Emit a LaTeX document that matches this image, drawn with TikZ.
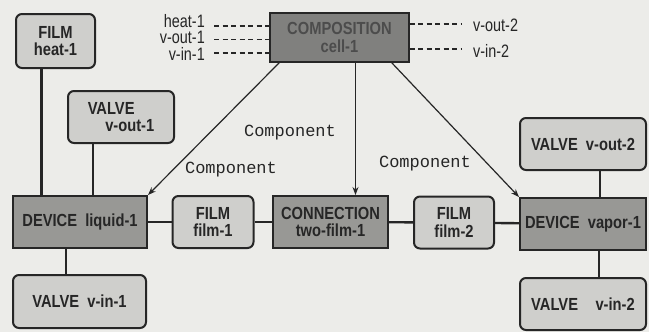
\documentclass[tikz,border=0pt]{standalone}
\usepackage{fontspec}
\setmainfont{Liberation Sans}
\newfontfamily\boxfont[FakeStretch=0.84]{Liberation Sans Bold}
\newfontfamily\portfont[FakeStretch=0.8]{Liberation Sans}
\newfontfamily\relfont{Liberation Mono}
\usepackage{tikz}
\usetikzlibrary{arrows.meta, positioning, calc}
\definecolor{paper}{RGB}{236,236,233}
\definecolor{lightbox}{RGB}{207,207,204}
\definecolor{darkbox}{RGB}{152,152,149}
\definecolor{compbox}{RGB}{128,128,126}
\definecolor{ink}{RGB}{38,38,38}
\newcommand{\boxtext}{\boxfont\fontsize{17.5}{17.5}\selectfont}

\begin{document}
\begin{tikzpicture}[x=1pt, y=-1pt,
    part/.style={rectangle, rounded corners=6pt, draw=ink, line width=2pt, fill=lightbox,
                 inner sep=0pt, align=center, font=\boxtext, text=ink},
    unit/.style={part, rounded corners=0pt, fill=darkbox},
    whole/.style={unit, fill=compbox, text=black!70, line width=1.4pt},
    link/.style={draw=ink, line width=2.4pt},
    rel/.style={-{Stealth[length=8pt, width=6pt]}, draw=ink, line width=1.2pt},
    rellbl/.style={font=\relfont\fontsize{17}{18}\selectfont, text=ink, inner sep=1pt},
    stub/.style={draw=ink, line width=1.4pt, dash pattern=on 5pt off 3.5pt},
    portlbl/.style={font=\portfont\fontsize{18}{16.5}\selectfont, text=ink, inner sep=0pt}
]
\useasboundingbox[fill=paper] (0,0) rectangle (649,332);

% the composition and its ports
\node[whole, minimum width=139pt, minimum height=49pt] (comp) at (339.5,37.5) {COMPOSITION\\cell-1};
\coordinate (p1) at (214,26);
\coordinate (p2) at (214,39.5);
\coordinate (p3) at (214,53);
\coordinate (p4) at (462,24);
\coordinate (p5) at (462,49);
\draw[stub] (p1) -- (p1 -| comp.west);
\draw[stub] (p2) -- (p2 -| comp.west);
\draw[stub] (p3) -- (p3 -| comp.west);
\draw[stub] (p4 -| comp.east) -- (p4);
\draw[stub] (p5 -| comp.east) -- (p5);
\node[portlbl, align=right, anchor=north east] (lports) at (205,14) {heat-1\\v-out-1\\v-in-1};
\node[portlbl, anchor=west] (lvout2) at (473,25) {v-out-2};
\node[portlbl, anchor=west] (lvin2) at (473,51) {v-in-2};

% components
\node[part, minimum width=79pt, minimum height=54pt] (heat) at (55.5,41) {FILM\\heat-1};
\node[part, minimum width=106pt, minimum height=52pt, align=left] (vout1) at (121,117) {VALVE\\\quad v-out-1};
\node[unit, minimum width=134pt, minimum height=52pt] (liquid) at (80,222) {DEVICE\ \ liquid-1};
\node[part, minimum width=133pt, minimum height=53pt] (vin1) at (79.5,301.5) {VALVE\ \ v-in-1};
\node[part, minimum width=81pt, minimum height=52pt] (film1) at (213,222) {FILM\\film-1};
\node[unit, minimum width=115pt, minimum height=52pt] (conn) at (330.5,222) {CONNECTION\\two-film-1};
\node[part, minimum width=80pt, minimum height=52pt] (film2) at (454,222.5) {FILM\\film-2};
\node[unit, minimum width=126pt, minimum height=52pt] (vapor) at (583,224) {DEVICE\ \ vapor-1};
\node[part, minimum width=126pt, minimum height=52pt] (vout2) at (583,144) {VALVE\ \ v-out-2};
\node[part, minimum width=126pt, minimum height=52pt] (vin2) at (583,304) {VALVE\quad v-in-2};

% connections
\draw[link] ([xshift=-14pt]heat.south) -- ([xshift=-14pt]heat.south |- liquid.north);
\draw[link] ([xshift=-28pt]vout1.south) -- ([xshift=-28pt]vout1.south |- liquid.north);
\draw[link] ([xshift=-14pt]liquid.south) -- ([xshift=-14pt]liquid.south |- vin1.north);
\draw[link] (liquid) -- (film1);
\draw[link] (film1) -- (conn);
\draw[link] (conn) -- (film2);
\draw[link] (film2) -- (vapor);
\draw[link] ([xshift=17pt]vout2.south) -- ([xshift=17pt]vout2.south |- vapor.north);
\draw[link] ([xshift=16pt]vapor.south) -- ([xshift=16pt]vapor.south |- vin2.north);

% composition relations
\draw[rel] ([xshift=10pt]comp.south west) -- (liquid.north east);
\draw[rel] ([xshift=16pt]comp.south) -- ([xshift=16pt]comp.south |- conn.north);
\draw[rel] ([xshift=-18pt]comp.south east) -- (vapor.north west);
\node[rellbl] (c1) at (231,170) {Component};
\node[rellbl] (c2) at (290,133) {Component};
\node[rellbl] (c3) at (425,164) {Component};
\end{tikzpicture}
\end{document}
